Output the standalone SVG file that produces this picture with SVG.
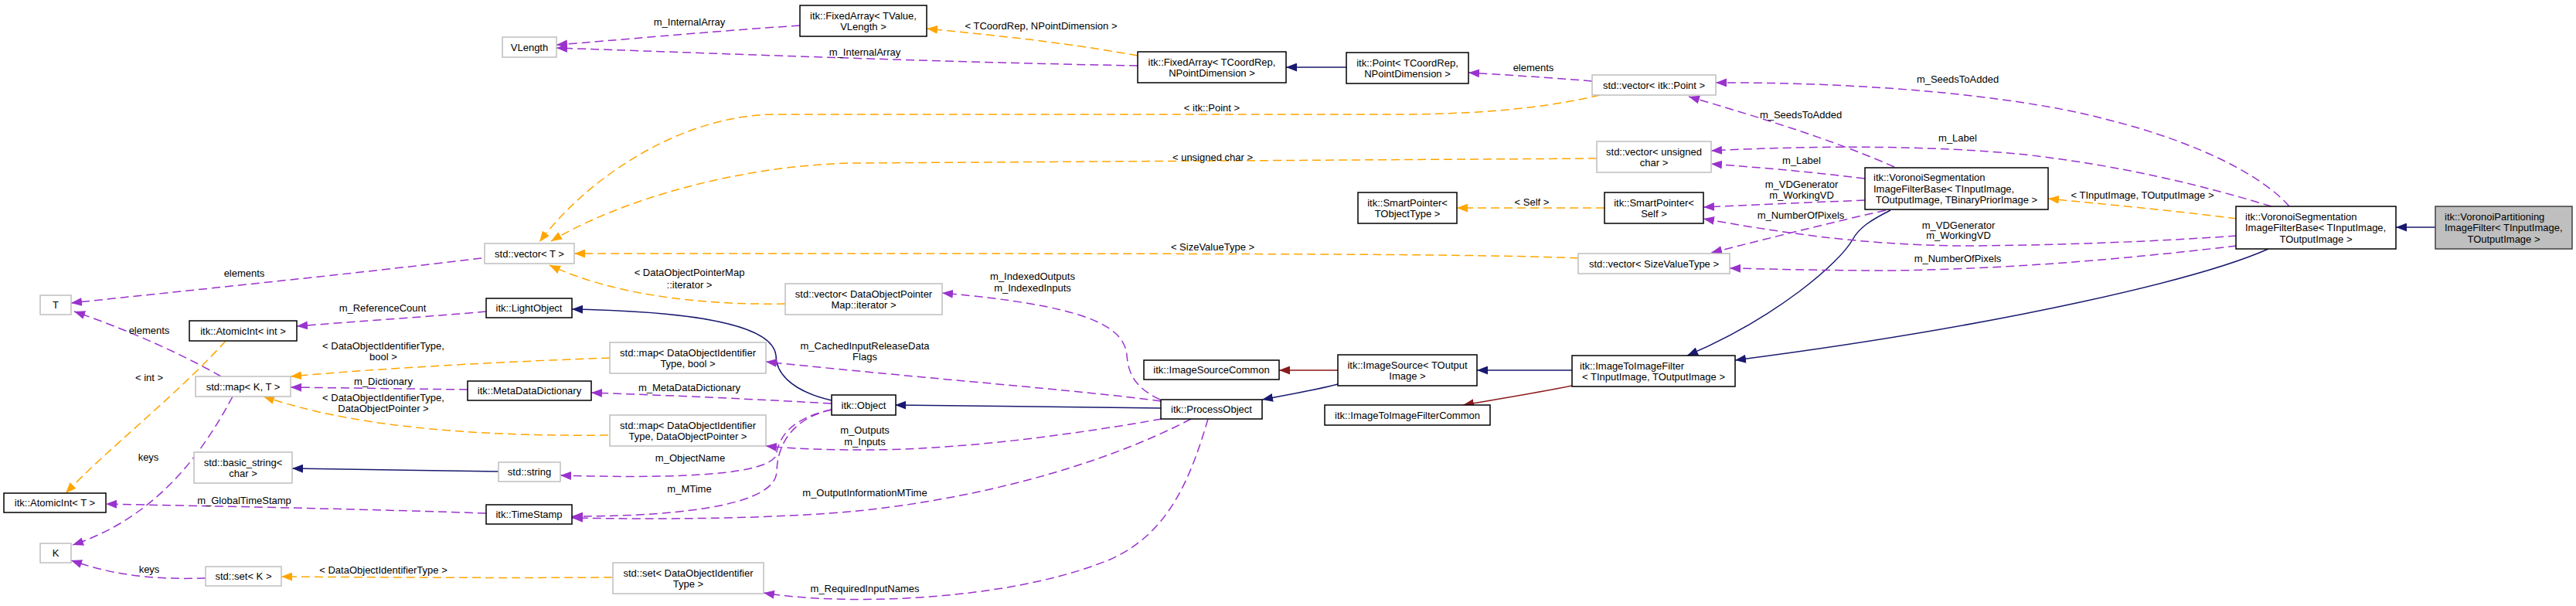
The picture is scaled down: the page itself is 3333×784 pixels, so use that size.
<svg xmlns="http://www.w3.org/2000/svg" width="3333" height="784" viewBox="0 0 3333 784">
<style>
text{font-family:"Liberation Sans",Arial,Helvetica,sans-serif;font-size:13px;fill:#000}
.m{text-anchor:middle}
.n rect{fill:#fff;stroke:#000;stroke-width:1.5}
.g rect{stroke:#bfbfbf}
.main rect{fill:#bfbfbf;stroke:#404040}
#edges path{fill:none;stroke-width:1.5}
#edges .p{stroke:#9a32cd;stroke-dasharray:11,6;marker-end:url(#ap)}
#edges .o{stroke:#ffa500;stroke-dasharray:11,6;marker-end:url(#ao)}
#edges .b{stroke:#191970;marker-end:url(#ab)}
#edges .r{stroke:#8b1a1a;marker-end:url(#ar)}
</style>
<defs>
<marker id="ap" markerUnits="userSpaceOnUse" markerWidth="15" markerHeight="11" refX="14" refY="5.5" orient="auto"><path d="M0,0L14,5.5L0,11Z" fill="#9a32cd"/></marker>
<marker id="ao" markerUnits="userSpaceOnUse" markerWidth="15" markerHeight="11" refX="14" refY="5.5" orient="auto"><path d="M0,0L14,5.5L0,11Z" fill="#ffa500"/></marker>
<marker id="ab" markerUnits="userSpaceOnUse" markerWidth="15" markerHeight="11" refX="14" refY="5.5" orient="auto"><path d="M0,0L14,5.5L0,11Z" fill="#191970"/></marker>
<marker id="ar" markerUnits="userSpaceOnUse" markerWidth="15" markerHeight="11" refX="14" refY="5.5" orient="auto"><path d="M0,0L14,5.5L0,11Z" fill="#8b1a1a"/></marker>
</defs>
<rect width="3333" height="784" fill="#fff"/>
<g id="edges">
<path class="p" d="M1035,33 C900,42 800,52 720,58"/>
<path class="p" d="M1472,85 C1200,80 900,68 720,62"/>
<path class="o" d="M1472,72 C1380,55 1280,45 1199,37"/>
<path class="b" d="M1742,87 L1664,87"/>
<path class="p" d="M2060,105 C2000,100 1950,97 1900,94"/>
<path class="o" d="M2070,123 C1990,142 1900,148 1800,148 L1000,148 C880,150 760,230 698,313"/>
<path class="o" d="M2066,205 L1100,211 C950,215 800,260 713,312"/>
<path class="o" d="M2042,334 C1900,328 1600,328 743,328"/>
<path class="o" d="M1016,393 C900,395 790,380 711,343"/>
<path class="o" d="M2076,269 L1885,269"/>
<path class="p" d="M623,334 C450,355 250,375 92,392"/>
<path class="p" d="M629,403 C550,410 460,416 384,422"/>
<path class="p" d="M286,487 C230,455 160,425 96,403"/>
<path class="o" d="M292,441 C230,510 140,580 85,638"/>
<path class="p" d="M301,513 C260,590 200,670 94,705"/>
<path class="p" d="M266,748 C200,750 150,745 92,725"/>
<path class="o" d="M792,747 C650,748 500,747 364,746"/>
<path class="o" d="M789,463 C650,468 500,476 376,487"/>
<path class="p" d="M605,504 C530,503 450,502 376,501"/>
<path class="o" d="M787,563 C600,565 450,550 341,513"/>
<path class="b" d="M645,610 C550,608 460,607 378,606"/>
<path class="p" d="M629,664 C450,658 280,655 137,652"/>
<path class="b" d="M1076,518 C1020,505 1004,480 1004,460 C1000,420 900,403 740,400"/>
<path class="p" d="M1076,522 C950,515 850,511 765,508"/>
<path class="p" d="M1076,530 C1030,540 1008,560 1004,590 C990,612 900,620 725,615"/>
<path class="p" d="M1076,530 C1030,540 1006,570 1005,610 C1004,650 900,668 740,668"/>
<path class="b" d="M1502,528 C1400,527 1270,525 1158,524"/>
<path class="p" d="M1502,519 C1400,505 1200,490 991,468"/>
<path class="p" d="M1503,542 C1400,560 1250,582 1119,582 C1060,582 1020,580 991,577"/>
<path class="p" d="M1541,542 C1450,590 1300,640 1119,660 C1000,672 850,672 740,670"/>
<path class="p" d="M1563,542 C1540,620 1510,700 1420,730 C1300,775 1100,785 988,767"/>
<path class="p" d="M1501,517 C1465,500 1460,480 1458,460 C1455,420 1400,395 1219,379"/>
<path class="r" d="M1731,479 L1655,479"/>
<path class="b" d="M1731,497 C1700,505 1670,510 1633,517"/>
<path class="b" d="M2034,479 L1911,479"/>
<path class="r" d="M2034,499 C1990,508 1940,516 1893,524"/>
<path class="b" d="M2446,272 C2420,285 2405,295 2397,310 C2380,340 2300,410 2183,460"/>
<path class="b" d="M2935,322 C2850,360 2600,420 2245,466"/>
<path class="o" d="M2894,283 C2810,272 2720,264 2650,257"/>
<path class="p" d="M2962,267 C2930,230 2850,185 2720,153 C2600,122 2400,106 2220,107"/>
<path class="p" d="M2451,216 C2370,180 2270,150 2185,125"/>
<path class="p" d="M2939,267 C2850,240 2750,215 2620,200 C2500,188 2350,188 2214,195"/>
<path class="p" d="M2413,231 C2340,222 2280,217 2214,212"/>
<path class="p" d="M2413,259 C2340,262 2270,265 2204,268"/>
<path class="p" d="M2440,272 C2360,290 2290,308 2214,327"/>
<path class="p" d="M2894,305 C2800,312 2650,318 2531,318 C2400,316 2300,300 2204,283"/>
<path class="p" d="M2894,318 C2750,335 2600,348 2450,350 C2350,350 2290,348 2238,347"/>
<path class="b" d="M3151,294 L3100,294"/>
</g>
<g id="edge-labels">
<text class="m" x="892" y="32.5">m_InternalArray</text>
<text class="m" x="1119" y="71.5">m_InternalArray</text>
<text class="m" x="1347" y="37.5">&lt; TCoordRep, NPointDimension &gt;</text>
<text class="m" x="1984" y="91.5">elements</text>
<text class="m" x="1568" y="143.5">&lt; itk::Point &gt;</text>
<text class="m" x="1569" y="207.5">&lt; unsigned char &gt;</text>
<text class="m" x="1569" y="323.5">&lt; SizeValueType &gt;</text>
<text class="m" x="1982" y="265.5">&lt; Self &gt;</text>
<text class="m" x="892" y="356.5">&lt; DataObjectPointerMap</text>
<text class="m" x="892" y="372.5">::iterator &gt;</text>
<text class="m" x="1336" y="361.5">m_IndexedOutputs</text>
<text class="m" x="1336" y="376.5">m_IndexedInputs</text>
<text class="m" x="316" y="357.5">elements</text>
<text class="m" x="495" y="402.5">m_ReferenceCount</text>
<text class="m" x="193" y="431.5">elements</text>
<text class="m" x="193" y="492.5">&lt; int &gt;</text>
<text class="m" x="192" y="595.5">keys</text>
<text class="m" x="193" y="740.5">keys</text>
<text class="m" x="496" y="741.5">&lt; DataObjectIdentifierType &gt;</text>
<text class="m" x="496" y="451.5">&lt; DataObjectIdentifierType,</text>
<text class="m" x="496" y="465.5">bool &gt;</text>
<text class="m" x="496" y="497.5">m_Dictionary</text>
<text class="m" x="496" y="518.5">&lt; DataObjectIdentifierType,</text>
<text class="m" x="496" y="532.5">DataObjectPointer &gt;</text>
<text class="m" x="316" y="651.5">m_GlobalTimeStamp</text>
<text class="m" x="1119" y="451.5">m_CachedInputReleaseData</text>
<text class="m" x="1119" y="465.5">Flags</text>
<text class="m" x="892" y="505.5">m_MetaDataDictionary</text>
<text class="m" x="1119" y="560.5">m_Outputs</text>
<text class="m" x="1119" y="575.5">m_Inputs</text>
<text class="m" x="893" y="596.5">m_ObjectName</text>
<text class="m" x="892" y="636.5">m_MTime</text>
<text class="m" x="1119" y="641.5">m_OutputInformationMTime</text>
<text class="m" x="1119" y="765.5">m_RequiredInputNames</text>
<text class="m" x="2533" y="106.5">m_SeedsToAdded</text>
<text class="m" x="2330" y="152.5">m_SeedsToAdded</text>
<text class="m" x="2533" y="182.5">m_Label</text>
<text class="m" x="2331" y="211.5">m_Label</text>
<text class="m" x="2331" y="242.5">m_VDGenerator</text>
<text class="m" x="2331" y="256.5">m_WorkingVD</text>
<text class="m" x="2330" y="282.5">m_NumberOfPixels</text>
<text class="m" x="2534" y="295.5">m_VDGenerator</text>
<text class="m" x="2534" y="308.5">m_WorkingVD</text>
<text class="m" x="2533" y="338.5">m_NumberOfPixels</text>
<text class="m" x="2772" y="256.5">&lt; TInputImage, TOutputImage &gt;</text>
</g>
<g id="VLength" class="n g"><rect x="650" y="48" width="70" height="26"/><text class="m" x="685" y="65.5">VLength</text></g>
<g id="FixedArrayTValue" class="n"><rect x="1035" y="7" width="164" height="40"/><text class="m" x="1117" y="24.5">itk::FixedArray&lt; TValue,</text><text class="m" x="1117" y="38.5">VLength &gt;</text></g>
<g id="FixedArrayTCoordRep" class="n"><rect x="1472" y="67" width="192" height="40"/><text class="m" x="1568" y="84.5">itk::FixedArray&lt; TCoordRep,</text><text class="m" x="1568" y="98.5">NPointDimension &gt;</text></g>
<g id="Point" class="n"><rect x="1742" y="68" width="158" height="40"/><text class="m" x="1821" y="85.5">itk::Point&lt; TCoordRep,</text><text class="m" x="1821" y="99.5">NPointDimension &gt;</text></g>
<g id="vecPoint" class="n g"><rect x="2060" y="97" width="160" height="26"/><text class="m" x="2140" y="114.5">std::vector&lt; itk::Point &gt;</text></g>
<g id="vecUChar" class="n g"><rect x="2066" y="183" width="148" height="40"/><text class="m" x="2140" y="200.5">std::vector&lt; unsigned</text><text class="m" x="2140" y="214.5">char &gt;</text></g>
<g id="SmartPtrTObj" class="n"><rect x="1757" y="249" width="128" height="40"/><text class="m" x="1821" y="266.5">itk::SmartPointer&lt;</text><text class="m" x="1821" y="280.5">TObjectType &gt;</text></g>
<g id="SmartPtrSelf" class="n"><rect x="2076" y="249" width="128" height="40"/><text class="m" x="2140" y="266.5">itk::SmartPointer&lt;</text><text class="m" x="2140" y="280.5">Self &gt;</text></g>
<g id="vecSize" class="n g"><rect x="2042" y="328" width="196" height="26"/><text class="m" x="2140" y="345.5">std::vector&lt; SizeValueType &gt;</text></g>
<g id="VSIFB3" class="n"><rect x="2413" y="217" width="237" height="54"/><text x="2424" y="234">itk::VoronoiSegmentation</text><text x="2424" y="248.5">ImageFilterBase&lt; TInputImage,</text><text class="m" x="2531.5" y="263">TOutputImage, TBinaryPriorImage &gt;</text></g>
<g id="VSIFB2" class="n"><rect x="2893" y="267" width="207" height="55"/><text x="2905" y="284.5">itk::VoronoiSegmentation</text><text x="2905" y="299">ImageFilterBase&lt; TInputImage,</text><text class="m" x="2996.5" y="313.5">TOutputImage &gt;</text></g>
<g id="VoronoiPartitioning" class="n main"><rect x="3151" y="267" width="177" height="55"/><text x="3163" y="284.5">itk::VoronoiPartitioning</text><text x="3163" y="299">ImageFilter&lt; TInputImage,</text><text class="m" x="3239.5" y="313.5">TOutputImage &gt;</text></g>
<g id="vecT" class="n g"><rect x="627" y="315" width="116" height="26"/><text class="m" x="685" y="332.5">std::vector&lt; T &gt;</text></g>
<g id="T" class="n g"><rect x="52" y="382" width="40" height="25"/><text class="m" x="72" y="399">T</text></g>
<g id="LightObject" class="n"><rect x="629" y="386" width="111" height="25"/><text class="m" x="684.5" y="403">itk::LightObject</text></g>
<g id="vecDOPMapIter" class="n g"><rect x="1016" y="367" width="203" height="40"/><text class="m" x="1117.5" y="384.5">std::vector&lt; DataObjectPointer</text><text class="m" x="1117.5" y="398.5">Map::iterator &gt;</text></g>
<g id="AtomicIntInt" class="n"><rect x="245" y="415" width="139" height="26"/><text class="m" x="314.5" y="432.5">itk::AtomicInt&lt; int &gt;</text></g>
<g id="mapKT" class="n g"><rect x="253" y="487" width="123" height="26"/><text class="m" x="314.5" y="504.5">std::map&lt; K, T &gt;</text></g>
<g id="basicString" class="n g"><rect x="251" y="585" width="127" height="40"/><text class="m" x="314.5" y="602.5">std::basic_string&lt;</text><text class="m" x="314.5" y="616.5">char &gt;</text></g>
<g id="AtomicIntT" class="n"><rect x="5" y="638" width="132" height="25"/><text class="m" x="71" y="655">itk::AtomicInt&lt; T &gt;</text></g>
<g id="K" class="n g"><rect x="52" y="703" width="40" height="25"/><text class="m" x="72" y="720">K</text></g>
<g id="setK" class="n g"><rect x="266" y="733" width="98" height="25"/><text class="m" x="315" y="750">std::set&lt; K &gt;</text></g>
<g id="MetaDataDictionary" class="n"><rect x="605" y="493" width="160" height="25"/><text class="m" x="685" y="510">itk::MetaDataDictionary</text></g>
<g id="stdString" class="n g"><rect x="645" y="598" width="80" height="25"/><text class="m" x="685" y="615">std::string</text></g>
<g id="TimeStamp" class="n"><rect x="629" y="653" width="111" height="25"/><text class="m" x="684.5" y="670">itk::TimeStamp</text></g>
<g id="mapDOITbool" class="n g"><rect x="789" y="443" width="202" height="40"/><text class="m" x="890" y="460.5">std::map&lt; DataObjectIdentifier</text><text class="m" x="890" y="474.5">Type, bool &gt;</text></g>
<g id="mapDOITDOP" class="n g"><rect x="789" y="537" width="202" height="40"/><text class="m" x="890" y="554.5">std::map&lt; DataObjectIdentifier</text><text class="m" x="890" y="568.5">Type, DataObjectPointer &gt;</text></g>
<g id="Object" class="n"><rect x="1076" y="511" width="83" height="26"/><text class="m" x="1117.5" y="528.5">itk::Object</text></g>
<g id="setDOIT" class="n g"><rect x="793" y="728" width="195" height="40"/><text class="m" x="890.5" y="745.5">std::set&lt; DataObjectIdentifier</text><text class="m" x="890.5" y="759.5">Type &gt;</text></g>
<g id="ImageSourceCommon" class="n"><rect x="1480" y="466" width="175" height="25"/><text class="m" x="1567.5" y="483">itk::ImageSourceCommon</text></g>
<g id="ProcessObject" class="n"><rect x="1502" y="517" width="131" height="25"/><text class="m" x="1567.5" y="534">itk::ProcessObject</text></g>
<g id="ImageSource" class="n"><rect x="1731" y="459" width="180" height="40"/><text class="m" x="1821" y="476.5">itk::ImageSource&lt; TOutput</text><text class="m" x="1821" y="490.5">Image &gt;</text></g>
<g id="ImageToImageFilterCommon" class="n"><rect x="1714" y="524" width="214" height="26"/><text class="m" x="1821" y="541.5">itk::ImageToImageFilterCommon</text></g>
<g id="ImageToImageFilter" class="n"><rect x="2034" y="460" width="211" height="40"/><text x="2044" y="477.5">itk::ImageToImageFilter</text><text class="m" x="2139.5" y="491.5">&lt; TInputImage, TOutputImage &gt;</text></g>
</svg>
